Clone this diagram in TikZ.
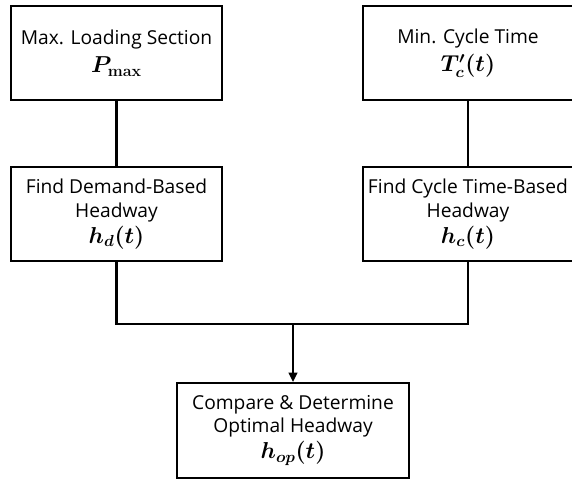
\documentclass[tikz,border=0pt]{standalone}
\usepackage[no-math]{fontspec}
\setmainfont{Open Sans}
\usepackage{bm}
\usetikzlibrary{positioning,arrows.meta}
\newcommand{\mvar}[1]{{\fontsize{17.5}{20}\selectfont$\bm{#1}$}}

\begin{document}
\begin{tikzpicture}[
  x=0.75pt, y=0.75pt,
  box/.style={draw, line width=1.6pt, align=center, minimum width=158pt, minimum height=70.5pt, font=\fontsize{14.4}{17.5}\selectfont, inner sep=0pt},
  link/.style={line width=1.6pt},
  node distance=48.75pt and 104pt
]
\useasboundingbox (0,0) rectangle (572,480);
\node[box] (pmax) at (116.5,427) {Max. Loading Section\\[4pt]\mvar{P_{\mathrm{max}}}};
\node[box, right=of pmax] (tcyc) {Min. Cycle Time\\[4pt]\mvar{T_c'(t)}};
\node[box, below=of pmax] (hd) {Find Demand-Based\\Headway\\[2pt]\mvar{h_d(t)}};
\node[box, below=of tcyc] (hc) {Find Cycle Time-Based\\Headway\\[2pt]\mvar{h_c(t)}};
\node[box, minimum width=174pt, minimum height=71.25pt] (hop) at (293,49.5) {Compare \& Determine\\Optimal Headway\\[2pt]\mvar{h_{op}(t)}};
\coordinate (join) at (293,156);
\draw[link] (pmax) -- (hd);
\draw[link] (tcyc) -- (hc);
\draw[link] (hd) -- (hd |- join) -- (hc |- join) -- (hc);
\draw[link, -{Triangle[length=7pt,width=6.5pt]}] (join) -- (hop);
\end{tikzpicture}
\end{document}
